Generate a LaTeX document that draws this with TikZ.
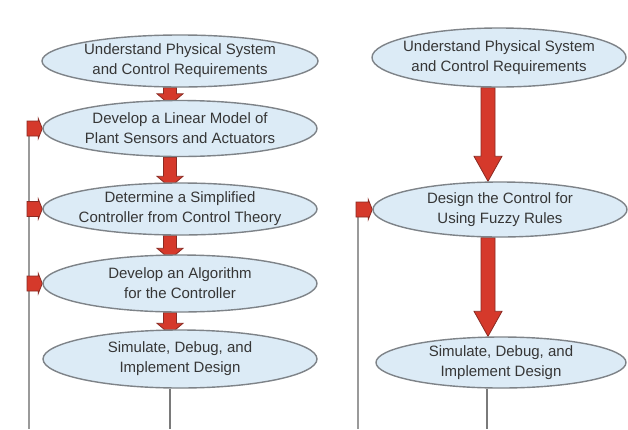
\documentclass[tikz,border=0pt]{standalone}
\usepackage{fontspec}
\setmainfont{Liberation Sans}
\usetikzlibrary{shapes.geometric,calc}
\pgfdeclarelayer{bg}
\pgfsetlayers{bg,main}
\definecolor{ellfill}{HTML}{DCEBF6}
\definecolor{elldraw}{HTML}{7E8388}
\definecolor{txtc}{HTML}{363636}
\definecolor{redf}{HTML}{D5392B}
\definecolor{redd}{HTML}{8B2A22}
\definecolor{linec}{HTML}{9A9A9A}
\definecolor{linedk}{HTML}{7A7A7A}
\tikzset{
  ell/.style={ellipse, draw=elldraw, fill=ellfill, line width=1.4pt, inner sep=0pt},
  lbl/.style={align=center, text=txtc, font=\fontsize{15}{20}\selectfont, inner sep=0pt},
  redarr/.style={fill=redf, draw=redd, line width=0.8pt, line join=miter},
  fbline/.style={draw=linec, line width=1.8pt},
  outline/.style={draw=linedk, line width=1.3pt},
}
% vertical block arrow: #1 from, #2 to, #3 half shaft, #4 half head, #5 head length
\newcommand\redDown[5]{%
  \draw[redarr] let \p1=#1, \p2=#2 in
    (\x1-#3,\y1) -- (\x1-#3,\y2+#5) -- (\x1-#4,\y2+#5) -- (\x1,\y2)
    -- (\x1+#4,\y2+#5) -- (\x1+#3,\y2+#5) -- (\x1+#3,\y1) -- cycle;}
% horizontal block arrow pointing right
\newcommand\redRight[5]{%
  \draw[redarr] let \p1=#1, \p2=#2 in
    (\x1,\y1-#3) -- (\x2-#5,\y1-#3) -- (\x2-#5,\y1-#4) -- (\x2,\y1)
    -- (\x2-#5,\y1+#4) -- (\x2-#5,\y1+#3) -- (\x1,\y1+#3) -- cycle;}
\begin{document}
\begin{tikzpicture}[x=1pt,y=-1pt]
\useasboundingbox (0,0) rectangle (628,429);
% left column
\node[ell, minimum width=276pt, minimum height=52pt] (L1) at (180,61) {};
\node[lbl] (L1t) at (L1) {Understand Physical System\\and Control Requirements};
\node[ell, minimum width=274pt, minimum height=56pt] (L2) at (180,128.5) {};
\node[lbl] (L2t) at (L2) {Develop a Linear Model of\\Plant Sensors and Actuators};
\node[ell, minimum width=274pt, minimum height=52pt] (L3) at (180,209) {};
\node[lbl] (L3t) at (L3) {Determine a Simplified\\Controller from Control Theory};
\node[ell, minimum width=274pt, minimum height=57pt] (L4) at (180,283.5) {};
\node[lbl] (L4t) at (L4) {Develop an Algorithm\\for the Controller};
\node[ell, minimum width=274pt, minimum height=58pt] (L5) at (180,359) {};
\node[lbl] (L5t) at (L5) {Simulate, Debug, and\\Implement Design};
% right column
\node[ell, minimum width=254pt, minimum height=59pt] (R1) at (499,57.5) {};
\node[lbl] (R1t) at (R1) {Understand Physical System\\and Control Requirements};
\node[ell, minimum width=254pt, minimum height=55pt] (R2) at (500,209.5) {};
\node[lbl] (R2t) at (R2) {Design the Control for\\Using Fuzzy Rules};
\node[ell, minimum width=250pt, minimum height=51pt] (R3) at (501,362.5) {};
\node[lbl] (R3t) at (R3) {Simulate, Debug, and\\Implement Design};
% helper coordinates
\coordinate (ax) at (170,0);
\coordinate (bx) at (488,0);
\coordinate (fbLa) at (27,0);
\coordinate (fbRa) at (356,0);
\coordinate (fbLend) at (29,429);
\coordinate (fbRend) at (358,429);
\coordinate (Lend) at (170,429);
\coordinate (Rend) at (487,429);
\begin{pgfonlayer}{bg}
  \fill[white] (0,0) rectangle (628,429);
  % feedback lines
  \draw[fbline] (fbLend |- L2.west) -- (fbLend);
  \draw[fbline] (fbRend |- R2.west) -- (fbRend);
  % bottom lines
  \draw[outline] (L5.south -| Lend) -- (Lend);
  \draw[outline] (R3.south -| Rend) -- (Rend);
  % left small arrows
  \redDown{(L1.south -| ax)}{($(L2.north -| ax)+(0,5)$)}{6.5pt}{13pt}{11pt}
  \redDown{(L2.south -| ax)}{($(L3.north -| ax)+(0,5)$)}{6.5pt}{13pt}{11pt}
  \redDown{(L3.south -| ax)}{($(L4.north -| ax)+(0,5)$)}{6.5pt}{13pt}{11pt}
  \redDown{(L4.south -| ax)}{($(L5.north -| ax)+(0,5)$)}{6.5pt}{13pt}{11pt}
  % right big arrows
  \redDown{(R1.south -| bx)}{(R2.north -| bx)}{7pt}{14pt}{25pt}
  \redDown{(R2.south -| bx)}{(R3.north -| bx)}{7pt}{14pt}{25pt}
  % feedback arrows
  \redRight{(fbLa |- L2.west)}{(L2.west)}{7.5pt}{10pt}{4pt}
  \redRight{(fbLa |- L3.west)}{(L3.west)}{7.5pt}{10pt}{4pt}
  \redRight{(fbLa |- L4.west)}{(L4.west)}{7.5pt}{10pt}{4pt}
  \redRight{(fbRa |- R2.west)}{(R2.west)}{7.5pt}{10pt}{4pt}
\end{pgfonlayer}
\end{tikzpicture}
\end{document}
